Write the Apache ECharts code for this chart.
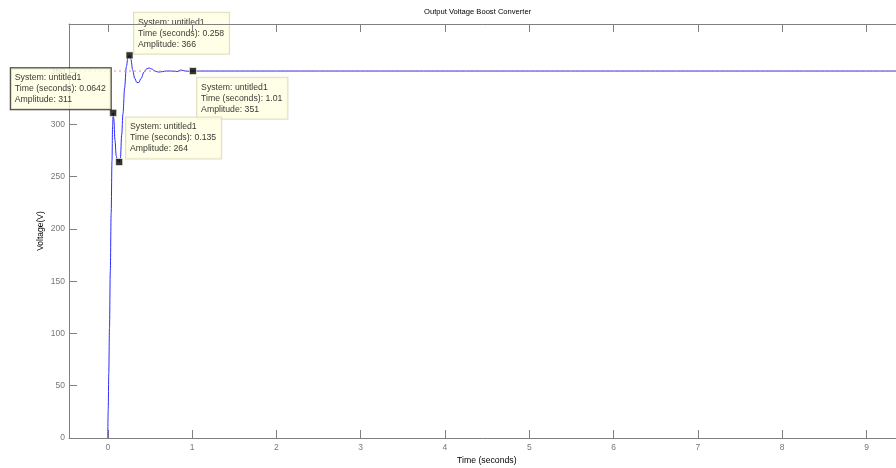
<!DOCTYPE html>
<html><head><meta charset="utf-8">
<script src="https://cdn.jsdelivr.net/npm/echarts@6/dist/echarts.min.js"></script>
<style>html,body{margin:0;padding:0;background:#fff}#c{width:896px;height:468px}</style>
</head><body><div id="c"></div>
<script>
// ---- data ----
const time = [0, 0.005, 0.012, 0.02, 0.03, 0.04, 0.05, 0.057, 0.0642, 0.072, 0.085, 0.1, 0.115, 0.135, 0.15, 0.165, 0.18, 0.2, 0.22, 0.24, 0.258, 0.275, 0.295, 0.32, 0.345, 0.368, 0.395, 0.43, 0.46, 0.49, 0.52, 0.56, 0.6, 0.65, 0.7, 0.76, 0.82, 0.87, 0.92, 0.97, 1.01, 2, 3, 4, 5, 6, 7, 8, 9, 10];
const voltage = [0, 27, 62, 105, 160, 215, 265, 298, 311, 305, 285, 270, 265, 264, 268, 290, 310, 335, 355, 364, 366, 362, 352, 344, 340, 340, 344, 350, 353, 354, 353, 351, 350, 350.5, 351, 351, 350.5, 352, 351, 350.8, 351, 351, 351, 351, 351, 351, 351, 351, 351, 351];
const steadyState = 351;
const timeRange = [-0.46, 10];
const xTicks = [0, 1, 2, 3, 4, 5, 6, 7, 8, 9, 10];
const yTicks = [0, 50, 100, 150, 200, 250, 300, 350];
const tipTime = [0.0642, 0.258, 1.01, 0.135];
const tipAmp = [311, 366, 351, 264];
const systemName = 'untitled1';
const titleText = 'Output Voltage Boost Converter';
const xName = 'Time (seconds)';
const yName = 'Voltage(V)';

// ---- styles ----
const tipLabelPos = [[-98.5, -40.8], [8.4, -38.8], [8.1, 10.5], [10.8, -40.5]];
const tipBorder = ['#000000', '#d9d5b5', '#d9d5b5', '#d9d5b5'];
const FONT = 'Liberation Sans';
const axisGray = '#808080';

const chart = echarts.init(document.getElementById('c'), null, {renderer: 'canvas'});
const lineData = time.map((t, i) => [t, voltage[i]]);
const steadyData = timeRange.map(t => [t, steadyState]);
const tipData = tipTime.map((t, i) => ({
  value: [t, tipAmp[i]],
  label: {
    position: tipLabelPos[i],
    borderColor: tipBorder[i],
    formatter: 'System: ' + systemName + '\nTime (seconds): ' + t + '\nAmplitude: ' + tipAmp[i]
  }
}));

const option = {
  animation: false,
  backgroundColor: '#ffffff',
  grid: {left: 69, top: 24, width: 881.8, height: 414, containLabel: false, outerBoundsMode: 'none'},
  graphic: [
    {type: 'text', left: 424, top: 8, style: {text: titleText, font: '7.6px "Liberation Sans"', fill: '#000'}},
    {type: 'text', left: 457, top: 456, style: {text: xName, font: '8.7px "Liberation Sans"', fill: '#000'}}
  ],
  xAxis: [{
    type: 'value', min: timeRange[0], max: timeRange[1], position: 'bottom',
    axisLine: {show: true, onZero: false, lineStyle: {color: axisGray, width: 1}},
    axisTick: {show: true, inside: true, length: 8, customValues: xTicks, lineStyle: {color: axisGray}},
    axisLabel: {show: true, customValues: xTicks, margin: 5, color: '#777', fontSize: 8.5, fontFamily: FONT},
    splitLine: {show: false}
  }, {
    type: 'value', min: timeRange[0], max: timeRange[1], position: 'top', z: 10,
    axisLine: {show: true, onZero: false, lineStyle: {color: axisGray, width: 1}},
    axisTick: {show: true, inside: true, length: 8, customValues: xTicks, lineStyle: {color: axisGray}},
    axisLabel: {show: false},
    splitLine: {show: false}
  }],
  yAxis: {
    type: 'value', min: 0, max: 396, name: yName, nameLocation: 'middle', nameGap: 24, nameRotate: 90,
    nameMoveOverlap: false,
    nameTextStyle: {color: '#000', fontSize: 8.5, fontFamily: FONT},
    axisLine: {show: true, onZero: false, lineStyle: {color: axisGray, width: 1}},
    axisTick: {show: true, inside: true, length: 8, customValues: yTicks, lineStyle: {color: axisGray}},
    axisLabel: {show: true, customValues: yTicks, margin: 4, color: '#777', fontSize: 8.5, fontFamily: FONT},
    splitLine: {show: false}
  },
  series: [{
    type: 'line', data: lineData, xAxisIndex: 0, showSymbol: false, symbol: 'none',
    smooth: 0.35, smoothMonotone: 'x',
    lineStyle: {color: '#2a2aff', width: 1}, z: 2
  }, {
    type: 'line', data: steadyData, xAxisIndex: 0, showSymbol: false, symbol: 'none', silent: true,
    lineStyle: {color: '#c79aa6', width: 1, type: [2, 3]}, z: 3
  }, {
    type: 'scatter', data: tipData, xAxisIndex: 0, symbol: 'rect', symbolSize: 7, z: 5,
    itemStyle: {color: '#000', borderColor: '#ffffe1', borderWidth: 0.8},
    label: {
      show: true, align: 'left', verticalAlign: 'top',
      backgroundColor: '#ffffe1', borderWidth: 1, padding: [4, 5, 4, 4],
      lineHeight: 11, fontSize: 8.7, fontFamily: FONT, color: '#000'
    },
    emphasis: {disabled: true}
  }]
};
chart.setOption(option);
</script>
</body></html>
